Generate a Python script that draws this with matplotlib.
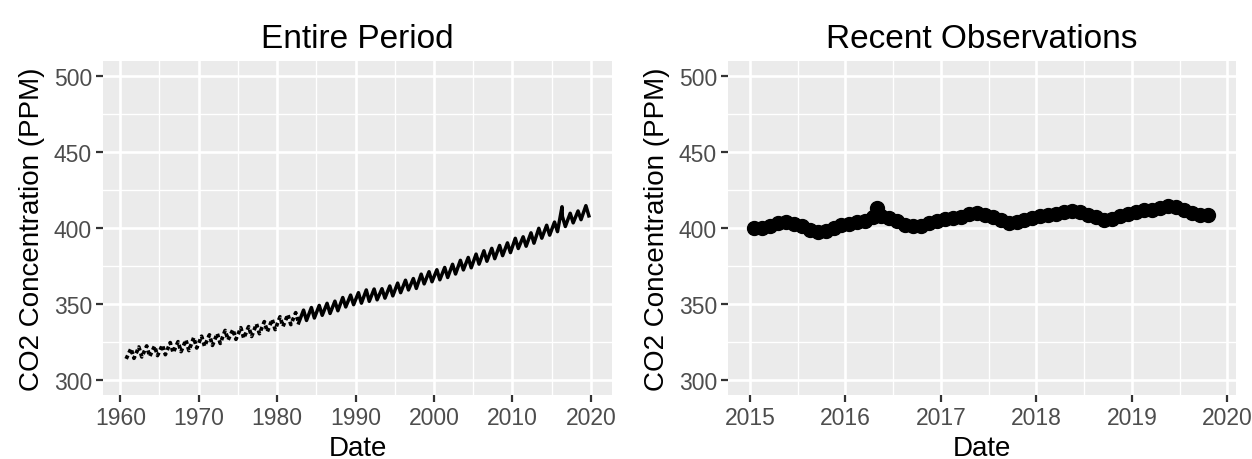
import matplotlib
matplotlib.use("Agg")
import matplotlib.pyplot as plt

plt.rcParams['font.family'] = ['Liberation Sans', 'DejaVu Sans']

# seasonal troughs (autumn) and peaks (spring), Mauna Loa style record
trough_years = list(range(1960, 2020))
trough_ppm = [313.8, 314.2, 315.1, 315.4, 316.0, 316.6, 317.9, 318.6, 319.3, 321.0,
              322.1, 322.7, 324.0, 326.3, 326.7, 327.4, 328.6, 330.4, 331.7, 333.1,
              335.2, 336.4, 337.5, 339.1, 340.7, 342.5, 343.7, 345.5, 348.0, 349.5,
              350.5, 351.7, 352.7, 353.8, 355.3, 357.4, 359.2, 360.2, 363.2, 364.6,
              365.9, 367.4, 369.7, 372.4, 373.8, 376.2, 378.1, 379.8, 381.8, 383.8,
              386.5, 388.0, 390.0, 393.3, 395.3, 397.6, 401.0, 403.4, 405.5, 408.0]
peak_years = list(range(1961, 2020))
peak_ppm = [320.6, 321.6, 322.3, 322.2, 322.9, 324.5, 325.1, 326.3, 327.8,
            328.7, 329.6, 330.5, 332.5, 333.1, 334.3, 335.0, 336.8, 338.3, 339.8,
            341.5, 343.0, 344.2, 345.9, 347.6, 349.0, 350.4, 351.8, 354.2, 355.8,
            357.4, 359.2, 359.8, 360.0, 361.8, 363.7, 365.6, 366.7, 369.6, 371.2,
            372.5, 374.0, 376.1, 378.7, 380.6, 382.8, 385.0, 386.6, 388.5, 390.2,
            393.2, 394.2, 396.8, 399.8, 401.8, 403.9, 407.7, 409.7, 411.2, 414.7]
spike_date = 2016.33
spike_ppm = 414.0

# recent monthly values, Jan 2015 - Oct 2019
recent_ppm = [399.98, 400.28, 401.54, 403.28, 403.96, 402.80, 401.31, 398.93, 397.63, 398.29, 400.16, 401.85,
              402.56, 404.12, 404.87, 407.45, 407.72, 406.83, 404.41, 402.27, 401.05, 401.59, 403.55, 404.45,
              406.17, 406.46, 407.22, 409.04, 409.69, 408.88, 407.12, 405.13, 403.37, 403.63, 405.12, 406.81,
              407.96, 408.32, 409.41, 410.24, 411.24, 410.79, 408.71, 406.99, 405.51, 406.00, 408.02, 409.07,
              410.83, 411.75, 411.97, 413.32, 414.66, 413.92, 411.77, 409.95, 408.54, 408.53]
recent_dates = [2015 + i // 12 + (i % 12 + 0.5) / 12 for i in range(len(recent_ppm))]

# whole record as date/value pairs
pts = [(y + 0.75, v) for y, v in zip(trough_years, trough_ppm)]
pts += [(y + 0.37, v) for y, v in zip(peak_years, peak_ppm)]
pts.append((spike_date, spike_ppm))
pts.sort()
all_dates = [p[0] for p in pts]
all_ppm = [p[1] for p in pts]

rec = sorted(list(zip(recent_dates, recent_ppm)) + [(spike_date, 413.5)])
rec_dates = [p[0] for p in rec]
rec_ppm = [p[1] for p in rec]

fig = plt.figure(figsize=(12.52, 4.6), dpi=100)
ax1 = fig.add_axes([103 / 1252, 64 / 460, 509 / 1252, 334 / 460])
ax2 = fig.add_axes([728 / 1252, 64 / 460, 508 / 1252, 334 / 460])


def style(ax, title):
    ax.set_facecolor('#EBEBEB')
    for s in ax.spines.values():
        s.set_visible(False)
    ax.grid(True, which='major', color='white', lw=1.9)
    ax.grid(True, which='minor', color='white', lw=0.95)
    ax.set_axisbelow(True)
    ax.tick_params(which='major', length=5, width=1.6, color='#333333',
                   labelsize=16.5, labelcolor='#4D4D4D', pad=3)
    ax.tick_params(which='minor', length=0)
    ax.set_ylim(290, 510)
    ax.set_yticks([300, 350, 400, 450, 500])
    ax.set_yticks([325, 375, 425, 475], minor=True)
    ax.set_xlabel('Date', fontsize=20, labelpad=4)
    ax.set_ylabel('CO2 Concentration (PPM)', fontsize=20, labelpad=6)
    ax.set_title(title, fontsize=24, pad=10)


# early part of the record has gaps, so it reads as broken
early = [i for i, d in enumerate(all_dates) if d < 1983]
late = [i for i, d in enumerate(all_dates) if d >= 1982.75]
ax1.plot([all_dates[i] for i in early], [all_ppm[i] for i in early],
         color='black', lw=2.7, linestyle=(0, (1.0, 0.8)))
ax1.plot([all_dates[i] for i in late], [all_ppm[i] for i in late],
         color='black', lw=2.5)
style(ax1, 'Entire Period')
ax1.set_xlim(all_dates[0] - 0.05 * (all_dates[-1] - all_dates[0]),
             all_dates[-1] + 0.05 * (all_dates[-1] - all_dates[0]))
ax1.set_xticks(range(1960, 2021, 10))
ax1.set_xticks(range(1965, 2021, 10), minor=True)

ax2.plot(rec_dates, rec_ppm, color='black', lw=2.5, marker='o', markersize=10)
style(ax2, 'Recent Observations')
ax2.set_xlim(2014.77, 2020.09)
ax2.set_xticks(range(2015, 2021))
ax2.set_xticks([2015.5, 2016.5, 2017.5, 2018.5, 2019.5], minor=True)

fig.savefig('out.png', dpi=100)
